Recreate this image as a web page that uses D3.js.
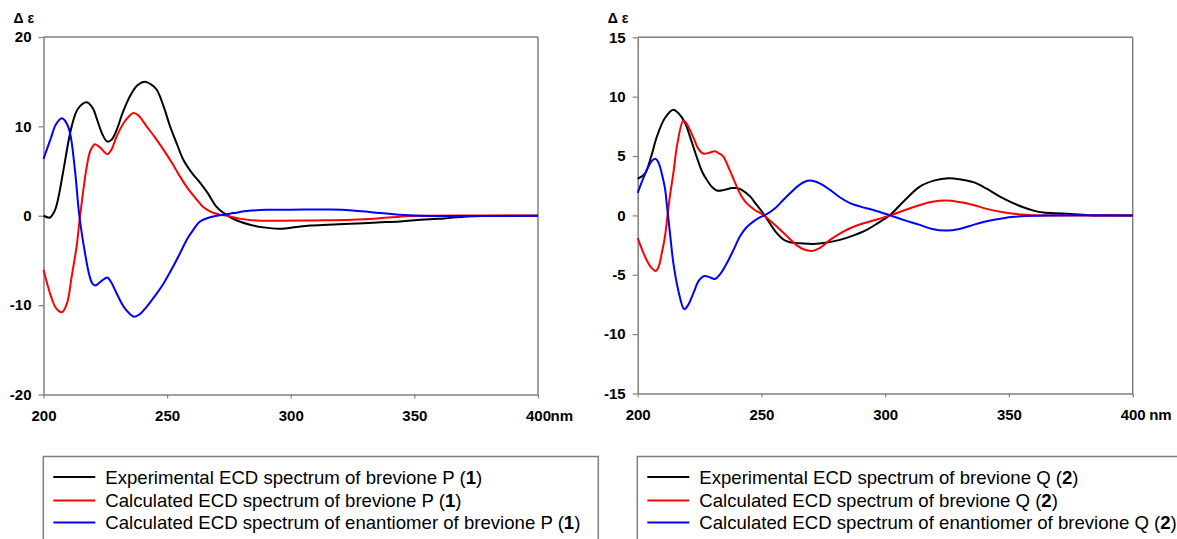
<!DOCTYPE html>
<html>
<head>
<meta charset="utf-8">
<script src="https://cdn.jsdelivr.net/npm/d3@7"></script>
<style>
  html, body { margin: 0; padding: 0; background: #fff; }
  svg { display: block; }
  text { font-family: "Liberation Sans", Arial, sans-serif; }
</style>
</head>
<body>
<svg id="chart" width="1177" height="539"></svg>
<script>
// ---------- DATA ----------
const xTicks = [200, 250, 300, 350, 400];
const yTicksP = [-20, -10, 0, 10, 20];
const yTicksQ = [-15, -10, -5, 0, 5, 10, 15];

// brevione P (1): [wavelength nm, Δε]
const expP = [[200,0],[202.6,-0.2],[204.6,0.6],[206,2],[208,5.0],[211.4,10],[214,12],[217.5,12.7],[220,12],[221.5,10.9],[224,9],[225.8,8.3],[227.5,8.5],[229.6,9.6],[232,11.5],[235,13.4],[238,14.6],[241,15.0],[243.5,14.7],[245.8,14.1],[248.5,12.3],[251.2,10],[254,8],[256.5,6.3],[260,4.8],[263.3,3.7],[266.5,2.5],[270,1.0],[274,0.1],[278,-0.5],[283.5,-1.0],[289,-1.3],[295,-1.46],[300,-1.35],[307.8,-1.1],[315,-1.0],[324,-0.9],[335,-0.75],[344,-0.64],[350,-0.5],[357.5,-0.37],[362,-0.3],[371,-0.08],[380,-0.02],[390,0],[400,0]];
const calcP = [[200,-6.05],[203,-9.0],[205,-10.3],[207.4,-10.8],[209.5,-9.8],[211.4,-6.8],[213.4,-3.4],[214.8,0],[217.5,5.5],[219,7.3],[220.8,8.0],[223,7.6],[225.8,6.9],[227.5,7.4],[229.6,8.9],[233,10.6],[236.3,11.5],[238.5,11.2],[241.7,10],[245,8.8],[248.5,7.4],[252,5.9],[255.2,4.4],[258.5,3.0],[262,1.8],[264.5,1.0],[267.3,0.5],[271,0.15],[275.4,-0.07],[280,-0.35],[286,-0.53],[295,-0.55],[310,-0.52],[325,-0.45],[335,-0.3],[344,-0.1],[352,0],[400,0]];
const enantP = [[200,6.35],[203,8.7],[205,10.2],[207.4,10.9],[209,10.5],[210.7,9.3],[212.7,5.15],[214.5,0],[216.8,-4.2],[218.5,-6.6],[219.8,-7.6],[221,-7.8],[223,-7.4],[225.8,-6.9],[227.5,-7.5],[229.6,-8.7],[233,-10.4],[236.6,-11.3],[239,-11.0],[241.7,-10.2],[245,-9.0],[248.5,-7.6],[252,-5.9],[255.2,-4.2],[257.9,-2.7],[260.5,-1.6],[263.3,-0.64],[267,-0.2],[270,0],[276.8,0.3],[283,0.55],[290.3,0.67],[300,0.68],[316,0.7],[325,0.6],[333.4,0.37],[344,0.1],[352,0],[400,0]];

// brevione Q (2)
const expQ = [[200,3.07],[203,3.55],[205.5,5.0],[207.7,6.6],[211,8.2],[214.4,8.9],[216.5,8.6],[219.1,7.8],[221.5,6.4],[223.8,4.95],[226,3.7],[227.9,3.0],[230,2.4],[231.9,2.1],[235,2.15],[238,2.3],[240,2.3],[242,2.15],[245.4,1.6],[248,0.9],[250.7,0.18],[253.5,-0.7],[256.2,-1.5],[259,-2.05],[261.5,-2.26],[266,-2.35],[271,-2.4],[276,-2.3],[281.7,-2.06],[287,-1.7],[292.5,-1.22],[297,-0.65],[302,0.04],[308,1.3],[314,2.43],[320,2.95],[325.5,3.13],[330,3.05],[335.6,2.8],[341,2.25],[346.4,1.58],[351,1.1],[355.8,0.69],[360,0.4],[363.9,0.24],[372,0.16],[380,0.05],[384,0],[400,0]];
const calcQ = [[200,-1.92],[202,-3.0],[203.6,-3.75],[205.5,-4.4],[207.3,-4.68],[208.5,-4.3],[209.7,-3.2],[211,-1.8],[212,-0.1],[213,1.6],[214.4,3.55],[216,6.0],[218.4,7.96],[219.5,7.8],[221.1,7.2],[223,6.3],[224.5,5.6],[226.5,5.2],[228.5,5.25],[231.2,5.4],[233,5.2],[234.6,4.95],[237,3.9],[240,2.43],[242,1.6],[244,1.03],[247,0.5],[250.7,0.04],[253.5,-0.45],[256.2,-0.94],[260,-1.7],[264.2,-2.5],[267,-2.85],[270.3,-2.99],[273.5,-2.75],[277.7,-2.06],[281.5,-1.55],[285.8,-1.08],[290,-0.75],[295.2,-0.43],[302,0],[308,0.45],[314,0.88],[319,1.15],[324.8,1.25],[330,1.12],[335.6,0.88],[341,0.55],[347.7,0.27],[353,0.12],[357.2,0.05],[362,0],[400,0]];
const enantQ = [[200,1.9],[202,3.0],[204.3,4.1],[206,4.65],[207.3,4.76],[208.5,4.4],[209.7,3.55],[211,2.3],[212,0.46],[213.2,-1.8],[214.4,-4.0],[216.5,-6.4],[218.8,-7.9],[220.5,-7.5],[222.5,-6.55],[224.7,-5.5],[226.9,-5.1],[229,-5.2],[231.2,-5.35],[233.5,-4.9],[236,-4.03],[238.5,-3.0],[241.3,-1.78],[244,-1.0],[246.7,-0.52],[249.5,-0.15],[252.1,0.1],[255.5,0.6],[258.8,1.3],[262,1.95],[265.5,2.6],[269.6,2.93],[273.5,2.7],[277.7,2.15],[281.5,1.55],[285.8,1.03],[290,0.74],[295.2,0.46],[302,0],[308,-0.42],[314,-0.8],[319,-1.15],[324.6,-1.28],[330,-1.15],[335.6,-0.8],[341,-0.5],[347.7,-0.24],[352,-0.12],[357,-0.05],[365,0],[400,0]];

const legendP = ["Experimental ECD spectrum of brevione P (", "Calculated ECD spectrum of brevione P (", "Calculated ECD spectrum of enantiomer of brevione P ("];
const legendQ = ["Experimental ECD spectrum of brevione Q (", "Calculated ECD spectrum of brevione Q (", "Calculated ECD spectrum of enantiomer of brevione Q ("];
const colors = ["#000000", "#ff0000", "#0000ff"];

// ---------- DRAW ----------
const svg = d3.select("#chart");
svg.append("rect").attr("width", 1177).attr("height", 539).attr("fill", "#fff");
const axisColor = "#7f7f7f";
const fmt = d => String(d);

function panel(opt) {
  const x = d3.scaleLinear().domain([200, 400]).range([opt.x0, opt.x1]);
  const y = d3.scaleLinear().domain(opt.yDomain).range([opt.yBot, opt.yTop]);
  const g = svg.append("g");

  // frame top & right
  g.append("line").attr("x1", opt.x0).attr("x2", opt.x1).attr("y1", opt.yTop).attr("y2", opt.yTop)
    .attr("stroke", axisColor).attr("stroke-width", 1.5);
  g.append("line").attr("x1", opt.x1).attr("x2", opt.x1).attr("y1", opt.yTop).attr("y2", opt.yBot)
    .attr("stroke", axisColor).attr("stroke-width", 1.5);

  // y axis
  const ya = g.append("g").attr("transform", `translate(${opt.x0},0)`)
    .call(d3.axisLeft(y).tickValues(opt.yTicks).tickFormat(fmt).tickSize(5).tickSizeOuter(0).tickPadding(7));
  ya.select(".domain").attr("stroke", axisColor).attr("stroke-width", 1.5);
  ya.selectAll(".tick line").attr("stroke", axisColor).attr("stroke-width", 1.2);
  ya.selectAll(".tick text").attr("font-size", 15).attr("font-weight", "bold")
    .attr("font-family", "Liberation Sans, Arial, sans-serif").attr("fill", "#000");

  // x axis
  const xa = g.append("g").attr("transform", `translate(0,${opt.yBot})`)
    .call(d3.axisBottom(x).tickValues(xTicks).tickFormat(fmt).tickSize(4).tickSizeOuter(0));
  xa.select(".domain").attr("stroke", axisColor).attr("stroke-width", 1.5);
  xa.selectAll(".tick line").attr("stroke", axisColor).attr("stroke-width", 1.2);
  xa.selectAll(".tick text").attr("font-size", 15).attr("font-weight", "bold")
    .attr("font-family", "Liberation Sans, Arial, sans-serif").attr("fill", "#000")
    .attr("y", 26.5).attr("dy", 0);

  // nm
  g.append("text").attr("x", x(400) + opt.nmOffset).attr("y", opt.yBot + 26.5)
    .attr("font-size", 15).attr("font-weight", "bold").text("nm");

  // Δε label
  g.append("text").attr("x", opt.x0 - 30).attr("y", 23)
    .attr("font-size", 14).attr("font-weight", "bold").text("Δ ε");

  // curves
  const line = d3.line().x(d => x(d[0])).y(d => y(d[1])).curve(d3.curveCatmullRom.alpha(0.5));
  opt.series.forEach((s, i) => {
    g.append("path").datum(s).attr("d", line).attr("fill", "none")
      .attr("stroke", colors[i]).attr("stroke-width", 2).attr("stroke-linejoin", "round");
  });

  // legend
  const L = opt.legend;
  g.append("rect").attr("x", L.x).attr("y", L.y).attr("width", L.w).attr("height", 120)
    .attr("fill", "none").attr("stroke", axisColor).attr("stroke-width", 1.5);
  opt.legendText.forEach((t, i) => {
    const yy = L.rows[i];
    g.append("line").attr("x1", L.x + 10).attr("x2", L.x + 52).attr("y1", yy).attr("y2", yy)
      .attr("stroke", colors[i]).attr("stroke-width", 2);
    const tx = g.append("text").attr("x", L.x + 62).attr("y", yy + 6.5).attr("font-size", 18.6).attr("fill", "#000");
    tx.append("tspan").text(t);
    tx.append("tspan").attr("font-weight", "bold").text(opt.num);
    tx.append("tspan").text(")");
  });
}

panel({
  x0: 43.5, x1: 538, yTop: 37, yBot: 394.5, yDomain: [-20, 20], yTicks: yTicksP,
  series: [expP, calcP, enantP], nmOffset: 12.5,
  legend: { x: 43.3, y: 456.5, w: 555, rows: [477, 500.5, 522.5] },
  legendText: legendP, num: "1"
});
panel({
  x0: 637.7, x1: 1132.7, yTop: 37.3, yBot: 393.5, yDomain: [-15, 15], yTicks: yTicksQ,
  series: [expQ, calcQ, enantQ], nmOffset: 16.5,
  legend: { x: 637.3, y: 456.5, w: 560, rows: [477, 500.5, 522.5] },
  legendText: legendQ, num: "2"
});
</script>
</body>
</html>
